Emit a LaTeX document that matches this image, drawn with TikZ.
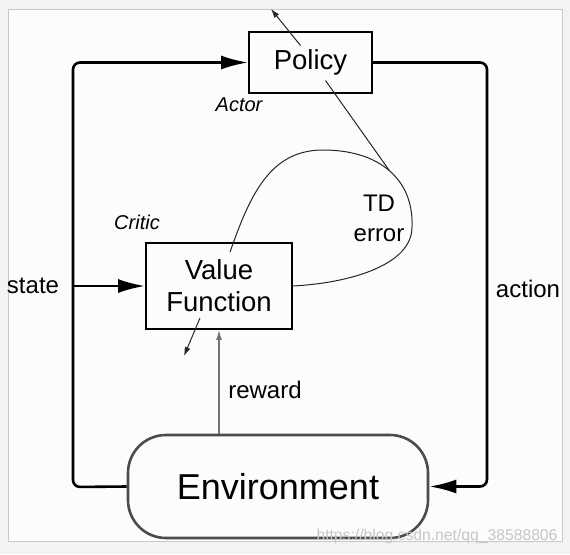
\documentclass[tikz,border=0pt]{standalone}
\usepackage{fontspec}
\setmainfont{Liberation Sans}
\usetikzlibrary{arrows.meta,calc}
\definecolor{pagegray}{HTML}{F3F3F3}
\definecolor{panelwhite}{HTML}{FCFCFC}
\definecolor{rimgray}{HTML}{C8C8C8}

\begin{document}
\begin{tikzpicture}[
        x=1pt, y=-1pt,
        box/.style={draw, line width=1.8pt, inner sep=0pt, align=center, font=\fontsize{27.5}{32}\selectfont},
        world/.style={draw=black!70, line width=2.6pt, rounded corners=38pt, minimum width=300pt, minimum height=103pt, font=\fontsize{36}{40}\selectfont},
        tag/.style={font=\fontsize{24}{30}\selectfont, inner sep=0pt, align=center},
        role/.style={font=\fontsize{20}{24}\selectfont\itshape, inner sep=0pt},
        flow/.style={-{Latex[length=27pt, width=14pt]}, line width=2.6pt, rounded corners=7pt},
        hint/.style={-{Latex[length=9pt, width=6pt]}, line width=1pt, black!85},
        reward/.style={-{Latex[length=10pt, width=6pt]}, line width=1.3pt, black!55},
        tdline/.style={line width=1pt, black!85}
    ]
        \useasboundingbox (0,0) rectangle (570,554);
        % Frame
        \fill[pagegray] (0,0) rectangle (570,554);
        \draw[rimgray, fill=panelwhite, line width=1pt] (8,9) rectangle (562,541);

        % Actor and critic
        \node[box, minimum width=123pt, minimum height=61pt] (policy) at (310.5,62.5) {Policy};
        \node[box, minimum width=146pt, minimum height=86pt] (value) at (219,286) {Value\\Function};
        \node[world] (env) at (278,486.5) {Environment};

        \node[role] (actor) at (239,105) {Actor};
        \node[role] (critic) at (137,222) {Critic};

        % Outer loop
        \coordinate (sx) at (73,487);
        \coordinate (ax) at (487,62.5);
        \draw[flow] (env.west) -- (sx) |- (policy.west);
        \draw[flow] (sx |- value.west) -- (value.west);
        \draw[flow] (policy.east) -- (ax) |- (env.east);
        \node[tag] (state) at (33,286) {state};
        \node[tag] (action) at (528,289) {action};

        % Reward
        \draw[reward] (value.south |- env.north) -- (value.south);
        \node[tag] (rew) at (265,390) {reward};

        % TD error loop
        \coordinate (tdjoin) at (389.6,170.9);
        \draw[tdline] ($(value.north)+(11,10)$) .. controls (250,195) and (270,150) .. (323,150)
            .. controls (380,150) and (414,180) .. (412,227)
            .. controls (412,265) and (350,283) .. (value.east);
        \draw[tdline] ($(policy.center)+(15,18)$) -- (tdjoin);
        \node[tag] (td) at (379,218) {TD\\error};

        % Parameter updates
        \coordinate (actorout) at (271,9);
        \coordinate (criticout) at (184,356);
        \draw[hint] ($(policy.center)+(-10,-17)$) -- (actorout);
        \draw[hint] ($(value.center)+(-19,32)$) -- (criticout);

        \node[font=\fontsize{15.7}{18}\selectfont, gray!45, inner sep=0pt] (mark) at (437,536) {https://blog.csdn.net/qq\_38588806};
    \end{tikzpicture}
\end{document}
